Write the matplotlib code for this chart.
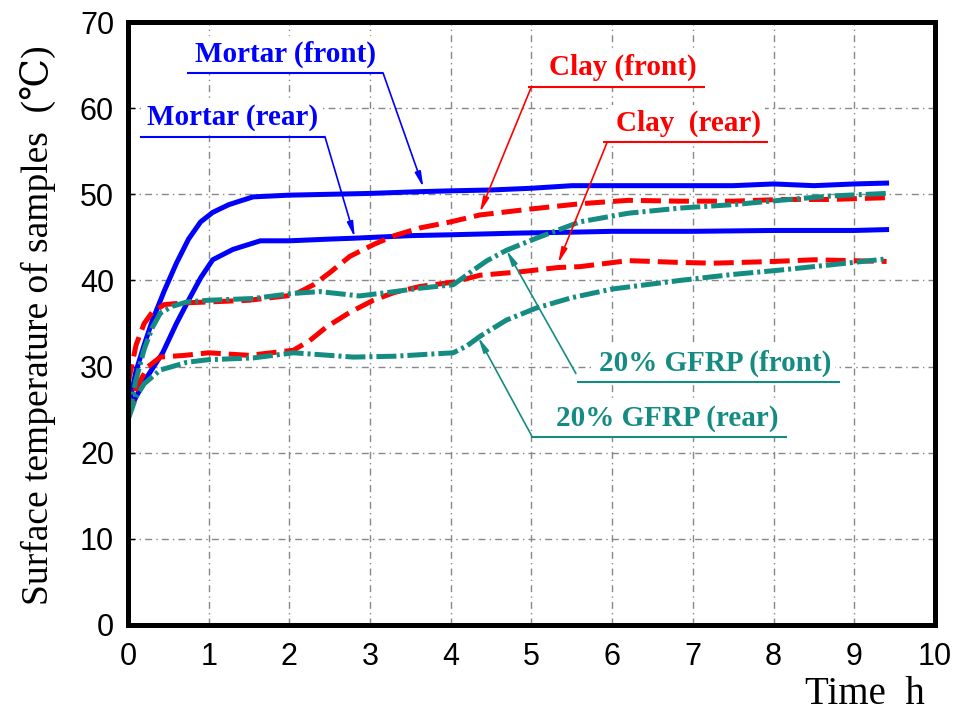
import numpy as np
import matplotlib
matplotlib.use('Agg')
import matplotlib.pyplot as plt

# 读图数据 (时间 h, 温度 ℃)
t_mortar_front = [0, 0.1, 0.2, 0.3, 0.45, 0.6, 0.75, 0.9, 1.05, 1.25, 1.55, 2.0, 2.5, 3.0,
                  3.6, 4.0, 4.5, 5.0, 5.5, 6.0, 6.5, 7.0, 7.5, 8.0, 8.5, 9.0, 9.4]
T_mortar_front = [25, 29.5, 32.5, 35.3, 38.8, 42, 44.8, 46.8, 47.9, 48.8, 49.7, 49.9, 50, 50.1,
                  50.3, 50.4, 50.5, 50.7, 51, 51, 51, 51, 51, 51.2, 51, 51.2, 51.3]

t_mortar_rear = [0, 0.1, 0.25, 0.43, 0.6, 0.75, 0.9, 1.05, 1.3, 1.64, 2.0, 2.5, 2.8, 3.5,
                 4.0, 4.86, 5.5, 6.0, 7.0, 8.0, 9.0, 9.4]
T_mortar_rear = [24.5, 26.5, 29, 31.6, 35, 37.7, 40.3, 42.4, 43.6, 44.6, 44.6, 44.8, 44.9, 45.2,
                 45.3, 45.5, 45.6, 45.7, 45.7, 45.8, 45.8, 45.9]

t_clay_front = [0, 0.1, 0.2, 0.3, 0.45, 0.7, 1.0, 1.5, 2.05, 2.3, 2.5, 2.75, 3.05, 3.3, 3.62,
                4.0, 4.36, 5.0, 5.6, 6.2, 6.84, 7.5, 8.1, 8.7, 9.4]
T_clay_front = [28, 32.5, 35, 36.3, 37.2, 37.4, 37.5, 37.7, 38.3, 39.5, 40.9, 42.8, 44.2, 45.2, 46.1,
                46.8, 47.6, 48.3, 48.9, 49.3, 49.2, 49.2, 49.4, 49.4, 49.6]

t_clay_rear = [0, 0.1, 0.25, 0.4, 0.7, 1.0, 1.5, 2.05, 2.25, 2.46, 2.75, 3.04, 3.3, 3.62, 4.03,
               4.36, 4.86, 5.33, 5.6, 6.2, 6.8, 7.25, 8.0, 8.5, 9.4]
T_clay_rear = [24, 27.5, 30, 31.1, 31.3, 31.6, 31.3, 31.9, 33, 34.6, 36.3, 37.7, 38.6, 39.3, 39.8,
               40.6, 41, 41.5, 41.6, 42.3, 42.1, 42, 42.2, 42.4, 42.2]

t_gfrp_front = [0, 0.1, 0.2, 0.3, 0.4, 0.55, 0.73, 1.0, 1.55, 2.05, 2.38, 2.87, 3.3, 3.62, 4.03,
                4.15, 4.28, 4.45, 4.69, 4.9, 5.06, 5.6, 6.2, 6.84, 7.5, 8.08, 8.7, 9.4]
T_gfrp_front = [24, 28.5, 32, 34.5, 36.2, 37, 37.5, 37.7, 37.9, 38.5, 38.7, 38.2, 38.7, 39.1, 39.5,
                40.3, 41.2, 42.3, 43.5, 44.3, 44.9, 46.8, 47.8, 48.4, 48.8, 49.3, 49.8, 50.1]

t_gfrp_rear = [0, 0.1, 0.2, 0.4, 0.73, 1.0, 1.55, 2.05, 2.5, 2.79, 3.3, 4.03, 4.2, 4.36, 4.69,
               5.06, 5.5, 6.0, 6.84, 7.5, 8.08, 8.7, 9.4]
T_gfrp_rear = [23.8, 26.5, 28, 29.6, 30.5, 30.8, 31, 31.6, 31.3, 31.1, 31.2, 31.6, 32.4, 33.5, 35.4,
               36.8, 38.0, 39.0, 40.0, 40.7, 41.2, 41.8, 42.5]

blue = '#0000ff'
red = '#ff0000'
teal = '#148c82'

# 标注: 文字, 颜色, 文字中心x, 下划线(x0, x1, y), 箭头尾, 箭头头
notes = [
    ('Mortar (front)', blue, 1.95, (0.73, 3.16, 64.1), (3.16, 64.1), (3.66, 50.8)),
    ('Mortar (rear)', blue, 1.29, (0.15, 2.44, 56.7), (2.44, 56.7), (2.81, 45.0)),
    ('Clay (front)', red, 6.13, (4.96, 7.15, 62.5), (5.0, 62.5), (4.36, 47.9)),
    ('Clay  (rear)', red, 6.94, (5.89, 7.93, 56.1), (5.94, 56.1), (5.33, 42.0)),
    ('20% GFRP (front)', teal, 7.27, (5.56, 8.82, 28.2), (5.55, 29.2), (4.69, 43.5)),
    ('20% GFRP (rear)', teal, 6.68, (5.0, 8.17, 21.8), (5.0, 22.0), (4.34, 33.4)),
]

serif = ['Liberation Serif', 'DejaVu Serif']
sans = ['Liberation Sans', 'DejaVu Sans']

fig = plt.figure(figsize=(9.62, 7.19), dpi=100)
ax = fig.add_axes([128/962, 94/719, 807/962, 603/719])
ax.set_axisbelow(True)

lw = 3.6
ax.plot(t_mortar_front, T_mortar_front, color=blue, lw=lw)
ax.plot(t_mortar_rear, T_mortar_rear, color=blue, lw=lw)
ax.plot(t_clay_front, T_clay_front, color=red, lw=lw, linestyle=(0, (4, 1.6)))
ax.plot(t_clay_rear, T_clay_rear, color=red, lw=lw, linestyle=(0, (4, 1.6)))
ax.plot(t_gfrp_front, T_gfrp_front, color=teal, lw=lw, linestyle=(0, (4, 0.8, 0.6, 0.8)))
ax.plot(t_gfrp_rear, T_gfrp_rear, color=teal, lw=lw, linestyle=(0, (4, 0.8, 0.6, 0.8)))

for txt, c, xc, (u0, u1, uy), tail, tip in notes:
    ax.text(xc, uy + 0.6, txt, color=c, ha='center', va='bottom', fontsize=21,
            fontweight='bold', family=serif, zorder=3,
            bbox=dict(facecolor='white', edgecolor='none', pad=3))
    ax.plot([u0, u1], [uy, uy], color=c, lw=1.5, zorder=4, solid_capstyle='butt')
    ax.annotate('', xy=tip, xytext=tail, zorder=4,
                arrowprops=dict(arrowstyle='-|>,head_width=0.18,head_length=0.9',
                                color=c, lw=1.2, shrinkA=0, shrinkB=0))

ax.set_xlim(0, 10)
ax.set_ylim(0, 70)
ax.set_xticks(range(0, 11))
ax.set_yticks(range(0, 71, 10))
ax.grid(True, color='#888888', lw=1, linestyle=(0, (5, 3, 1, 3)))
for s in ax.spines.values():
    s.set_linewidth(3.6)
ax.tick_params(axis='y', direction='in', length=5, width=1, pad=10)
ax.tick_params(axis='x', length=0, pad=12)
for lab in ax.get_xticklabels() + ax.get_yticklabels():
    lab.set_family(sans)
    lab.set_fontsize(22)

fig.text(38/962, 1 - 325/719, 'Surface temperature of samples  (℃)', rotation=90,
         ha='center', va='center', fontsize=27, family=serif)
fig.text(925/962, 1 - 695/719, 'Time  h', ha='right', va='center', fontsize=28, family=serif)

fig.savefig('out.png', dpi=100)
